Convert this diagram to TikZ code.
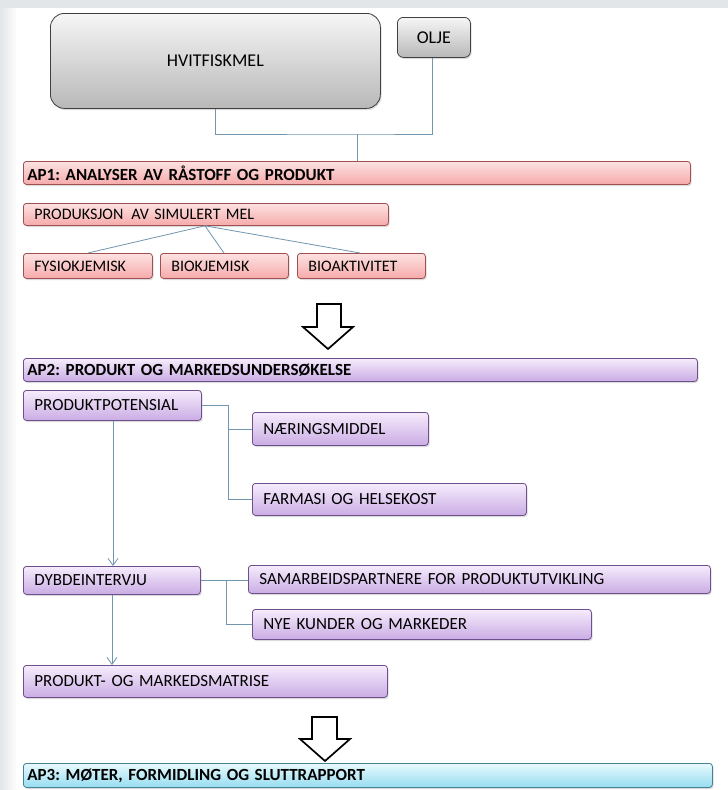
\documentclass[tikz,border=0pt]{standalone}
\usepackage{fontspec}
\setmainfont{Carlito}
\usetikzlibrary{shadows,arrows.meta}
\frenchspacing

\definecolor{linecol}{RGB}{112,150,176}
\definecolor{pinktop}{RGB}{253,226,226}
\definecolor{pinkbot}{RGB}{246,170,170}
\definecolor{pinkedge}{RGB}{160,80,80}
\definecolor{lilactop}{RGB}{246,236,252}
\definecolor{lilacbot}{RGB}{202,172,228}
\definecolor{lilacedge}{RGB}{110,80,140}
\definecolor{cyantop}{RGB}{232,250,254}
\definecolor{cyanbot}{RGB}{150,220,240}
\definecolor{cyanedge}{RGB}{70,130,150}
\definecolor{greytop}{RGB}{246,246,246}
\definecolor{greybot}{RGB}{184,184,184}
\definecolor{bgstrip}{RGB}{226,230,233}

\tikzset{
  box/.style={draw, line width=0.8pt, rounded corners=3pt, anchor=north west,
    inner xsep=11pt, inner ysep=0pt, align=left,
    drop shadow={shadow xshift=1.2pt, shadow yshift=-1.6pt, opacity=0.28},
    font=\fontsize{17}{19}\selectfont},
  pinkbox/.style={box, draw=pinkedge, top color=pinktop, bottom color=pinkbot,
    font=\fontsize{16}{18}\selectfont},
  lilacbox/.style={box, draw=lilacedge, top color=lilactop, bottom color=lilacbot},
  cyanbox/.style={box, draw=cyanedge, top color=cyantop, bottom color=cyanbot},
  greybox/.style={box, draw=black!75, rounded corners=14pt, align=center,
    inner xsep=4pt, top color=greytop, bottom color=greybot,
    font=\fontsize{18}{20}\selectfont},
  head/.style={inner xsep=4pt, font=\bfseries\fontsize{17}{19}\selectfont},
  link/.style={draw=linecol, line width=0.8pt},
  flow/.style={link, -{Straight Barb[length=7pt,width=10pt]}},
  blockarrow/.style={draw=black, line width=1.7pt, fill=white, line join=miter}
}

\begin{document}
\begin{tikzpicture}[x=1pt,y=-1pt]
  \useasboundingbox (0,0) rectangle (728,790);
  % page background with soft grey margin on the left and top
  \fill[bgstrip] (0,0) rectangle (728,790);
  \shade[left color=bgstrip, right color=white] (0,8) rectangle (18,790);
  \fill[white] (16,8) rectangle (728,790);

  % raw materials
  \node[greybox, minimum width=330pt, minimum height=95pt] (fish) at (50,13) {HVITFISKMEL};
  \node[greybox, rounded corners=6pt, minimum width=73pt, minimum height=40pt] (oil) at (397,17) {OLJE};

  % work package 1
  \node[pinkbox, head, minimum height=23pt, text width=659pt] (ap1) at (23,161) {AP1: ANALYSER AV RÅSTOFF OG PRODUKT};
  \node[pinkbox, minimum height=22pt, text width=343pt] (sim) at (23,203) {PRODUKSJON\, AV SIMULERT MEL};
  \node[pinkbox, minimum height=25pt, text width=107pt] (fys) at (23,253) {FYSIOKJEMISK};
  \node[pinkbox, minimum height=25pt, text width=106pt] (bio) at (160,253) {BIOKJEMISK};
  \node[pinkbox, minimum height=25pt, text width=106pt] (akt) at (297,253) {BIOAKTIVITET};

  % work package 2
  \node[lilacbox, head, minimum height=23pt, text width=666pt] (ap2) at (23,358) {AP2: PRODUKT OG MARKEDSUNDERSØKELSE};
  \node[lilacbox, minimum height=30pt, text width=156pt] (pot) at (23,390) {PRODUKTPOTENSIAL};
  \node[lilacbox, minimum height=33pt, text width=154pt] (nar) at (252,412) {NÆRINGSMIDDEL};
  \node[lilacbox, minimum height=32pt, text width=252pt] (farm) at (252,483) {FARMASI OG HELSEKOST};
  \node[lilacbox, minimum height=28pt, text width=155pt] (dyb) at (23,566) {DYBDEINTERVJU};
  \node[lilacbox, minimum height=28pt, text width=440pt] (sam) at (248,565) {SAMARBEIDSPARTNERE FOR PRODUKTUTVIKLING};
  \node[lilacbox, minimum height=30pt, text width=317pt] (nye) at (252,609) {NYE KUNDER OG MARKEDER};
  \node[lilacbox, minimum height=32pt, text width=342pt] (mat) at (23,665) {PRODUKT- OG MARKEDSMATRISE};

  % work package 3
  \node[cyanbox, head, minimum height=24pt, text width=681pt] (ap3) at (23,763) {AP3: MØTER, FORMIDLING OG SLUTTRAPPORT};

  % joints of the tree connectors
  \coordinate (j1) at (357,134);
  \coordinate (j2) at (228,0);
  \coordinate (j3) at (226,0);

  % raw materials feed AP1
  \draw[link] (fish.south -| 215,0) |- (j1) -| (oil.south -| 432,0);
  \draw[link] (j1) -- (ap1.north -| j1);

  % simulated meal splits into three analyses
  \draw[link] (sim.south -| 205,0) -- (fys.north -| 88,0);
  \draw[link] (sim.south -| 205,0) -- (bio.north -| 224,0);
  \draw[link] (sim.south -| 205,0) -- (akt.north -| 360,0);

  % product potential branches
  \draw[link] (pot.east) -| (j2 |- nar.west) -- (nar.west);
  \draw[link] (j2 |- nar.west) |- (farm.west);

  % interview branches
  \draw[link] (dyb.east) -- (sam.west |- dyb.east);
  \draw[link] (j3 |- dyb.east) |- (nye.west);

  % main flow inside AP2
  \draw[flow] (pot.south -| 113,0) -- (dyb.north -| 113,0);
  \draw[flow] (dyb.south -| 112,0) -- (mat.north -| 112,0);

  % hollow block arrows between work packages
  \draw[blockarrow] (317,304) -- (341,304) -- (341,327) -- (353,327) -- (328,349)
    -- (303,327) -- (317,327) -- cycle;
  \draw[blockarrow] (312,717) -- (337,717) -- (337,739) -- (350,739) -- (325,761)
    -- (300,739) -- (312,739) -- cycle;
\end{tikzpicture}
\end{document}
